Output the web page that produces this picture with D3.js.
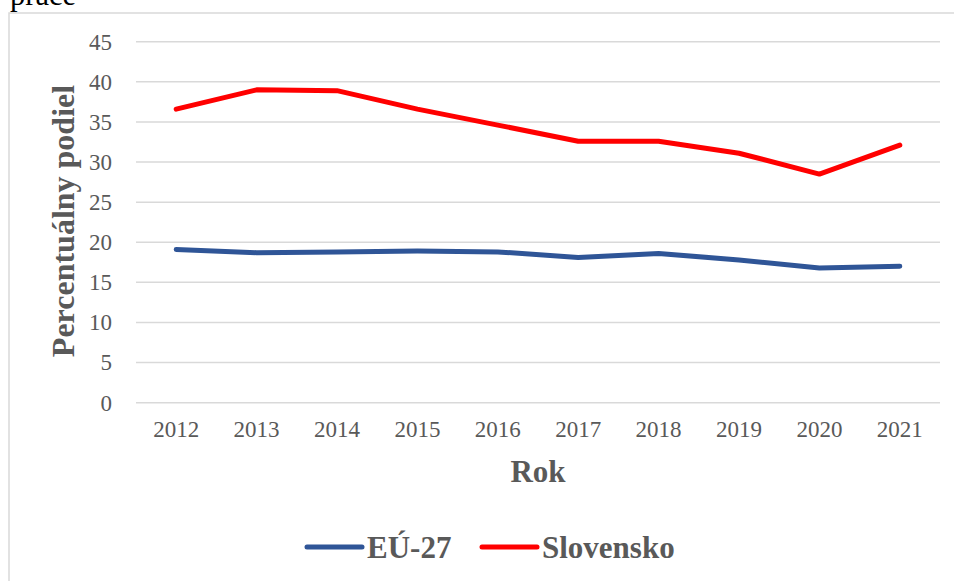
<!DOCTYPE html>
<html>
<head>
<meta charset="utf-8">
<script src="https://cdn.jsdelivr.net/npm/d3@7"></script>
<style>
  body { margin: 0; background: #fff; }
  svg { display: block; font-family: "Liberation Serif", "Times New Roman", serif; }
</style>
</head>
<body>
<svg class="grafico" width="954" height="581"></svg>
<script>
// dados
const ANOS = ['2012', '2013', '2014', '2015', '2016', '2017', '2018', '2019', '2020', '2021'];
const EU27 = [19.1, 18.7, 18.8, 18.9, 18.8, 18.1, 18.6, 17.8, 16.8, 17.0];
const SLOVENSKO = [36.6, 39.0, 38.9, 36.6, 34.6, 32.6, 32.6, 31.1, 28.5, 32.1];
const Y_TICKS = [0, 5, 10, 15, 20, 25, 30, 35, 40, 45];

const SERIES = [
  { nome: 'EÚ-27', valores: EU27, cor: '#2F5597' },
  { nome: 'Slovensko', valores: SLOVENSKO, cor: '#FF0000' }
];

const COR_TEXTO = '#595959';
const COR_GRADE = '#d9d9d9';

const $svg = d3.select('.grafico');

// pedaço do título que ficou cortado em cima (cortado também no original)
$svg.append('text')
  .attr('x', 10).attr('y', 5)
  .attr('font-size', 30.5)
  .attr('fill', '#000')
  .text('práce');

// borda da área do gráfico
$svg.append('path')
  .attr('d', 'M9,581V13H954')
  .attr('fill', 'none')
  .attr('stroke', COR_GRADE)
  .attr('stroke-width', 1.5);

const x = d3.scaleBand().domain(ANOS).range([136, 940]);
const y = d3.scaleLinear().domain([0, 45]).range([402.7, 41.7]);

// linhas de grade
$svg.append('g')
  .selectAll('line')
  .data(Y_TICKS)
  .enter()
  .append('line')
  .attr('x1', 136).attr('x2', 940)
  .attr('y1', d => y(d)).attr('y2', d => y(d))
  .attr('stroke', COR_GRADE)
  .attr('stroke-width', 1.5);

// eixo y
const yAxis = $svg.append('g')
  .attr('transform', 'translate(136,0)')
  .call(d3.axisLeft(y).tickValues(Y_TICKS).tickSize(0).tickPadding(24));
yAxis.select('.domain').remove();
yAxis.selectAll('text')
  .attr('font-size', 23)
  .attr('font-family', '"Liberation Serif", serif')
  .attr('fill', COR_TEXTO);

// eixo x
const xAxis = $svg.append('g')
  .attr('transform', 'translate(0,402.7)')
  .call(d3.axisBottom(x).tickSize(0).tickPadding(18));
xAxis.select('.domain').remove();
xAxis.selectAll('text')
  .attr('font-size', 23)
  .attr('font-family', '"Liberation Serif", serif')
  .attr('fill', COR_TEXTO);

// títulos dos eixos
$svg.append('text')
  .attr('transform', 'translate(74,221) rotate(-90)')
  .attr('text-anchor', 'middle')
  .attr('font-size', 32)
  .attr('font-weight', 'bold')
  .attr('fill', COR_TEXTO)
  .text('Percentuálny podiel');

$svg.append('text')
  .attr('x', 538).attr('y', 482)
  .attr('text-anchor', 'middle')
  .attr('font-size', 31)
  .attr('font-weight', 'bold')
  .attr('fill', COR_TEXTO)
  .text('Rok');

// linhas das séries
const linha = d3.line()
  .x((d, i) => x(ANOS[i]) + x.bandwidth() / 2)
  .y(d => y(d));

$svg.append('g')
  .selectAll('path')
  .data(SERIES)
  .enter()
  .append('path')
  .attr('d', d => linha(d.valores))
  .attr('fill', 'none')
  .attr('stroke', d => d.cor)
  .attr('stroke-width', 5)
  .attr('stroke-linecap', 'round')
  .attr('stroke-linejoin', 'round');

// legenda
const LEGENDA_X = [307, 482];
const $leg = $svg.append('g')
  .selectAll('g')
  .data(SERIES)
  .enter()
  .append('g')
  .attr('transform', (d, i) => `translate(${LEGENDA_X[i]},547)`);

$leg.append('line')
  .attr('x1', 0).attr('x2', 55)
  .attr('stroke', d => d.cor)
  .attr('stroke-width', 5)
  .attr('stroke-linecap', 'round');

$leg.append('text')
  .attr('x', 60).attr('y', 10.5)
  .attr('font-size', 31)
  .attr('font-weight', 'bold')
  .attr('fill', COR_TEXTO)
  .text(d => d.nome);
</script>
</body>
</html>
